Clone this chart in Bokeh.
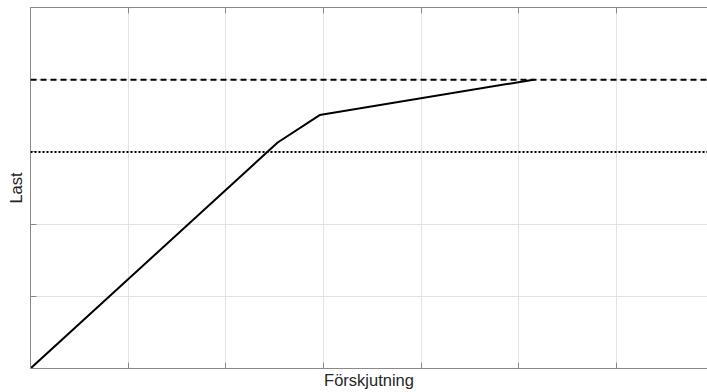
from bokeh.plotting import figure
from bokeh.models import Range1d, LinearAxis, FixedTicker, Span
from bokeh.embed import file_html
from bokeh.resources import INLINE

# Data (in grid units)
disp = [0.0, 2.53, 2.96, 5.15]
load = [0.0, 3.13, 3.51, 4.0]
dashed_level = 4.0
dotted_level = 3.0
x_ticks = [0, 1, 2, 3, 4, 5, 6, 7]
y_ticks = [0, 1, 2, 3, 4, 5]

W, H = 707, 392
p = figure(width=W, height=H, output_backend="svg", toolbar_location=None,
           x_range=Range1d(0, 6.93), y_range=Range1d(0, 5),
           x_axis_location=None, y_axis_location=None,
           min_border_left=30, min_border_right=0, min_border_top=7,
           min_border_bottom=24)
p.outline_line_color = None
p.background_fill_color = "white"
p.border_fill_color = "white"

FONT = "Liberation Sans"
AX = "#8a8a8a"

def style_axis(ax, ticks):
    ax.ticker = FixedTicker(ticks=ticks)
    ax.axis_line_color = AX
    ax.axis_line_width = 1
    ax.major_tick_line_color = AX
    ax.major_tick_in = 6
    ax.major_tick_out = 0
    ax.minor_tick_line_color = None
    ax.major_label_overrides = {t: "" for t in ticks}
    ax.major_label_text_font_size = "1px"
    ax.major_label_standoff = 0
    ax.axis_label_text_font = FONT
    ax.axis_label_text_font_style = "normal"
    ax.axis_label_text_font_size = "16.5px"
    ax.axis_label_text_color = "#262626"

xb = LinearAxis(axis_label="Förskjutning")
style_axis(xb, x_ticks)
xb.axis_label_standoff = 2
p.add_layout(xb, "below")

xt = LinearAxis()
style_axis(xt, x_ticks)
p.add_layout(xt, "above")

yl = LinearAxis(axis_label="Last")
style_axis(yl, y_ticks)
yl.axis_label_standoff = 6
p.add_layout(yl, "left")

p.xgrid.ticker = FixedTicker(ticks=x_ticks)
p.ygrid.ticker = FixedTicker(ticks=y_ticks)
p.grid.grid_line_color = "#e3e3e3"
p.grid.grid_line_width = 1

p.add_layout(Span(location=dashed_level, dimension="width", line_color="black",
                  line_width=2, line_dash="6 4"))
p.add_layout(Span(location=dotted_level, dimension="width", line_color="black",
                  line_width=2, line_dash="2 2"))

p.line(disp, load, line_color="black", line_width=2)

open("out.html", "w").write(file_html(p, INLINE))
